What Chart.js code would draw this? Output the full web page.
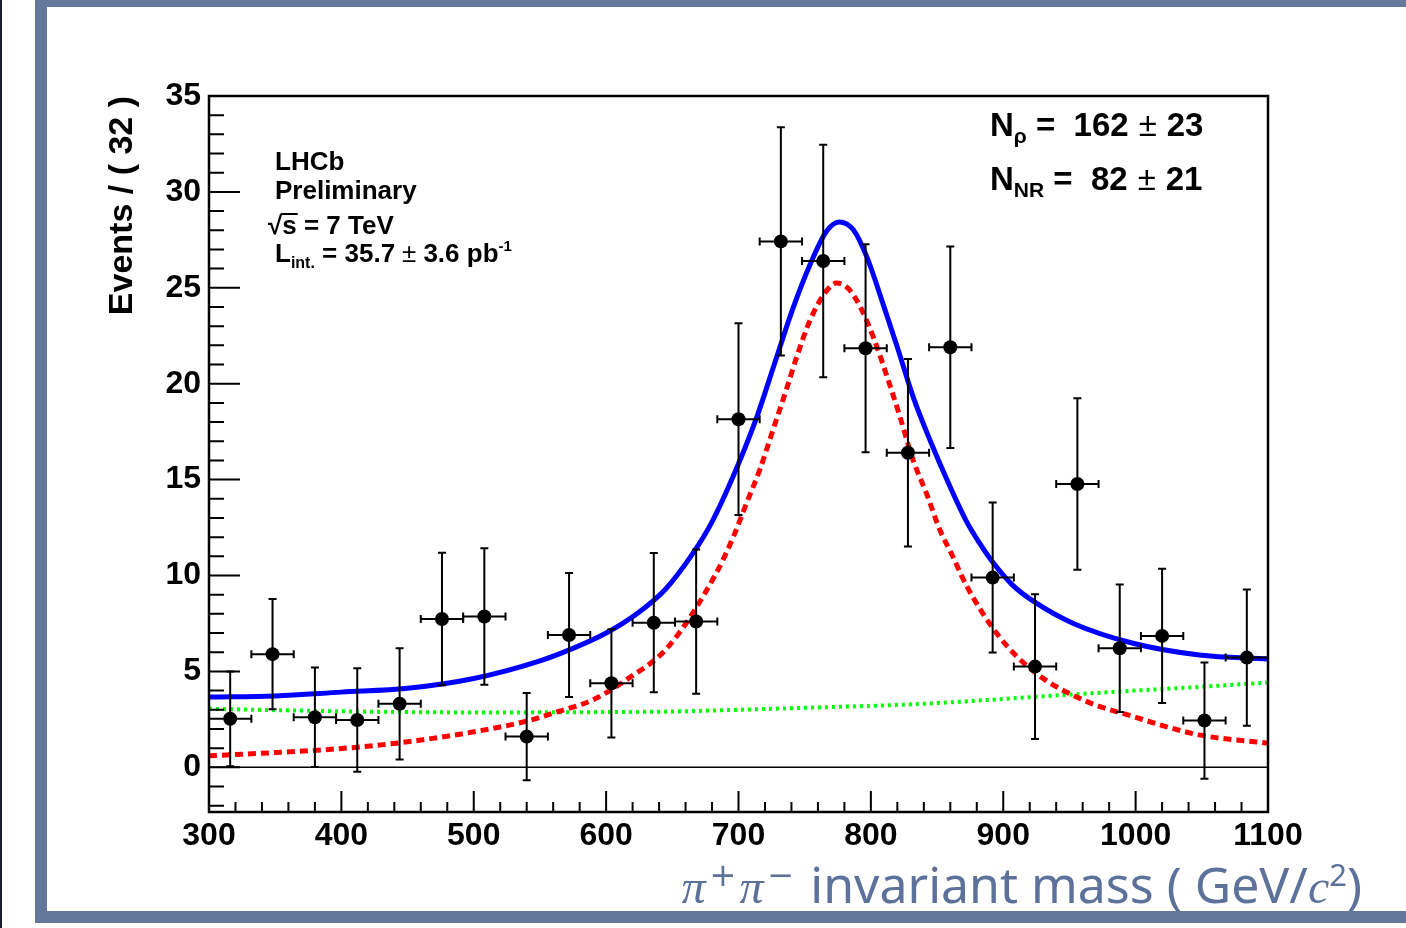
<!DOCTYPE html>
<html>
<head>
<meta charset="utf-8">
<title>pi+ pi- invariant mass</title>
<script src="https://cdn.jsdelivr.net/npm/chart.js@4.4.1/dist/chart.umd.min.js"></script>
<style>
  html, body { margin: 0; padding: 0; background: #fff; }
  #page { position: relative; width: 1406px; height: 928px; overflow: hidden; background: #fff; }
  .bar { position: absolute; background: #64789b; }
  #edge { position: absolute; left: 0; top: 0; width: 2px; height: 928px; background: #1b1e33; }
  #chartBox { position: absolute; left: 0; top: 0; width: 1406px; height: 928px; }
  #xtitle { position: absolute; right: 44px; top: 859px; font-family: "Noto Sans", sans-serif; font-size: 50px;
            line-height: 50px; color: #5d729a; white-space: nowrap; }
  #xtitle .m { font-family: "Liberation Serif", serif; font-style: italic; font-size: 48px; line-height: 0; }
  #xtitle .pm { font-family: "DejaVu Sans", sans-serif; font-size: 32px; line-height: 0; vertical-align: baseline;
                position: relative; top: -17px; margin: 0 3px 0 4px; }
  #xtitle sup { font-size: 0.62em; line-height: 0; vertical-align: baseline; position: relative; top: -0.55em; }
</style>
</head>
<body>
<div id="page">
  <div id="edge"></div>
  <div class="bar" style="left:35px; top:0; width:1371px; height:7px"></div>
  <div class="bar" style="left:35px; top:0; width:12px; height:923px"></div>
  <div class="bar" style="left:35px; top:911px; width:1371px; height:12px"></div>
  <div id="chartBox"><canvas id="massChart"></canvas></div>
  <div id="xtitle"><span class="m">π</span><span class="pm">+</span><span class="m">π</span><span class="pm">−</span> invariant mass ( GeV/<span class="m">c</span><sup>2</sup>)</div>
</div>
<script>
// binned data (bin width 32), symmetric errors
const binWidth = 32;
const massCenters = [316, 348, 380, 412, 444, 476, 508, 540, 572, 604, 636, 668, 700,
                     732, 764, 796, 828, 860, 892, 924, 956, 988, 1020, 1052, 1084];
const eventCounts = [2.53, 5.9, 2.61, 2.47, 3.31, 7.73, 7.86, 1.6, 6.9, 4.38, 7.54, 7.6, 18.15,
                     27.42, 26.4, 21.85, 16.4, 21.9, 9.89, 5.25, 14.77, 6.21, 6.85, 2.44, 5.72];
const eventErrors = [2.47, 2.87, 2.6, 2.7, 2.9, 3.45, 3.56, 2.28, 3.23, 2.82, 3.63, 3.76, 5.0,
                     5.95, 6.06, 5.42, 4.89, 5.25, 3.91, 3.77, 4.47, 3.32, 3.5, 3.03, 3.55];

// total fit (blue)
const totalMass = [300, 350, 400, 450, 500, 550, 575, 600, 625, 645, 665, 680, 698, 714, 727, 741,
                   754, 766, 776, 787, 797, 809, 820, 832, 845, 860, 872, 882, 892, 907, 923, 953,
                   998, 1048, 1100];
const totalFit = [3.66, 3.72, 3.92, 4.12, 4.63, 5.55, 6.2, 7.0, 8.1, 9.3, 11.1, 12.8, 15.5, 18.3, 21.0, 23.9,
                  26.2, 27.9, 28.43, 28.0, 26.6, 24.2, 21.9, 19.3, 17.0, 14.6, 12.85, 11.7, 10.7, 9.5, 8.65, 7.5,
                  6.47, 5.86, 5.65];

// rho component (red dashed)
const rhoMass = [300, 350, 400, 450, 500, 539, 564, 590, 615, 647, 683, 696, 706, 716, 726, 736, 744,
                 754, 766, 774, 783, 792, 802, 814, 822, 832, 842, 852, 862, 872, 897, 923, 960, 998,
                 1048, 1100];
const rhoFit = [0.6, 0.77, 0.98, 1.33, 1.85, 2.39, 2.91, 3.52, 4.55, 6.29, 10.1, 12.0, 13.76, 15.5, 17.58, 19.66, 21.4,
                23.3, 24.8, 25.25, 24.96, 24.0, 22.4, 20.0, 18.27, 16.0, 14.28, 12.4, 10.98, 9.5, 6.81, 5.0, 3.52, 2.65,
                1.69, 1.26];

// non-resonant component (green dotted)
const nrMass = [300, 400, 500, 600, 650, 700, 750, 822, 850, 948, 1000, 1050, 1100];
const nrFit = [3.05, 2.92, 2.86, 2.88, 2.91, 3.0, 3.1, 3.26, 3.35, 3.78, 4.0, 4.2, 4.42];

const xTickValues = [300, 400, 500, 600, 700, 800, 900, 1000, 1100];
const yTickValues = [0, 5, 10, 15, 20, 25, 30, 35];

const toXY = (xs, ys) => xs.map((x, i) => ({ x: x, y: ys[i] }));
const boldFont = '"Liberation Sans", Arial, sans-serif';

function richText(ctx, x, y, parts) {
  let cx = x;
  for (const p of parts) {
    ctx.font = (p.light ? '' : 'bold ') + p.size + 'px ' + boldFont;
    ctx.fillText(p.text, cx, y + (p.dy || 0));
    cx += ctx.measureText(p.text).width + (p.gap || 0);
  }
  return cx;
}

const rootFrame = {
  id: 'rootFrame',
  beforeDatasetsDraw(chart) {
    const { ctx, chartArea: a, scales: { y } } = chart;
    const y0 = y.getPixelForValue(0);
    ctx.save();
    ctx.strokeStyle = '#000';
    ctx.lineWidth = 1.5;
    ctx.beginPath();
    ctx.moveTo(a.left, y0);
    ctx.lineTo(a.right, y0);
    ctx.stroke();
    ctx.restore();
  },
  afterDatasetsDraw(chart) {
    const { ctx, chartArea: a, scales: { x, y } } = chart;
    ctx.save();
    ctx.strokeStyle = '#000';
    ctx.lineWidth = 2;
    // error bars
    massCenters.forEach((m, i) => {
      const px = x.getPixelForValue(m);
      const py = y.getPixelForValue(eventCounts[i]);
      const pHi = y.getPixelForValue(eventCounts[i] + eventErrors[i]);
      const pLo = y.getPixelForValue(eventCounts[i] - eventErrors[i]);
      const pL = x.getPixelForValue(m - binWidth / 2);
      const pR = x.getPixelForValue(m + binWidth / 2);
      ctx.beginPath();
      ctx.moveTo(px, pHi); ctx.lineTo(px, pLo);
      ctx.moveTo(px - 4, pHi); ctx.lineTo(px + 4, pHi);
      ctx.moveTo(px - 4, pLo); ctx.lineTo(px + 4, pLo);
      ctx.moveTo(pL, py); ctx.lineTo(pR, py);
      ctx.moveTo(pL, py - 4); ctx.lineTo(pL, py + 4);
      ctx.moveTo(pR, py - 4); ctx.lineTo(pR, py + 4);
      ctx.stroke();
    });
    // ROOT style inner ticks
    ctx.beginPath();
    for (let v = -2; v <= 35; v++) {
      const py = y.getPixelForValue(v);
      ctx.moveTo(a.left, py);
      ctx.lineTo(a.left + (v % 5 === 0 ? 31 : 15), py);
    }
    for (let v = 300; v <= 1100; v += 20) {
      const px = x.getPixelForValue(v);
      ctx.moveTo(px, a.bottom);
      ctx.lineTo(px, a.bottom - (v % 100 === 0 ? 21 : 10));
    }
    ctx.stroke();
    ctx.lineWidth = 2.5;
    ctx.strokeRect(a.left, a.top, a.right - a.left, a.bottom - a.top);
    ctx.restore();
  },
  afterDraw(chart) {
    const { ctx, chartArea: a } = chart;
    ctx.save();
    ctx.fillStyle = '#000';
    ctx.textBaseline = 'alphabetic';
    const lx = a.left + 66;
    richText(ctx, lx, a.top + 74, [{ text: 'LHCb', size: 26 }]);
    richText(ctx, lx, a.top + 103, [{ text: 'Preliminary', size: 26 }]);
    const sx = richText(ctx, lx - 7, a.top + 138, [{ text: '√', size: 26 }]);
    const afterS = richText(ctx, sx, a.top + 138, [{ text: 's', size: 26 }]);
    ctx.lineWidth = 2;
    ctx.beginPath();
    ctx.moveTo(sx - 1, a.top + 118);
    ctx.lineTo(afterS + 1, a.top + 118);
    ctx.stroke();
    richText(ctx, afterS, a.top + 138, [{ text: ' = 7 TeV', size: 26 }]);
    richText(ctx, lx, a.top + 166, [
      { text: 'L', size: 26 },
      { text: 'int.', size: 16, dy: 6 },
      { text: ' = 35.7', size: 26, gap: 7 },
      { text: '±', size: 26, light: true, gap: 7 },
      { text: '3.6 pb', size: 26 },
      { text: '-1', size: 15, dy: -11 }
    ]);
    const rx = a.left + 781;
    richText(ctx, rx, a.top + 40, [
      { text: 'N', size: 33 },
      { text: 'ρ', size: 21, dy: 7 },
      { text: ' =  162', size: 33, gap: 10 },
      { text: '±', size: 33, light: true, gap: 10 },
      { text: '23', size: 33 }
    ]);
    richText(ctx, rx, a.top + 94, [
      { text: 'N', size: 33 },
      { text: 'NR', size: 21, dy: 7 },
      { text: ' =  82', size: 33, gap: 10 },
      { text: '±', size: 33, light: true, gap: 10 },
      { text: '21', size: 33 }
    ]);
    ctx.restore();
  }
};

const tickFont = { family: boldFont, weight: 'bold', size: 32 };

new Chart(document.getElementById('massChart'), {
  data: {
    datasets: [
      {
        type: 'line', label: 'non-resonant', data: toXY(nrMass, nrFit),
        borderColor: '#00ff00', borderWidth: 4, borderDash: [3, 4], pointRadius: 0,
        cubicInterpolationMode: 'monotone', fill: false, order: 4
      },
      {
        type: 'line', label: 'rho', data: toXY(rhoMass, rhoFit),
        borderColor: '#ff0000', borderWidth: 5, borderDash: [8, 5], pointRadius: 0,
        cubicInterpolationMode: 'monotone', fill: false, order: 3
      },
      {
        type: 'line', label: 'total', data: toXY(totalMass, totalFit),
        borderColor: '#0000ff', borderWidth: 5, pointRadius: 0,
        cubicInterpolationMode: 'monotone', fill: false, order: 2
      },
      {
        type: 'scatter', label: 'data', data: toXY(massCenters, eventCounts),
        backgroundColor: '#000', borderWidth: 0, pointRadius: 7, order: 1
      }
    ]
  },
  options: {
    responsive: true,
    maintainAspectRatio: false,
    animation: false,
    layout: { padding: { left: 95, right: 138, top: 96, bottom: 0 } },
    plugins: { legend: { display: false }, tooltip: { enabled: false } },
    scales: {
      x: {
        type: 'linear', min: 300, max: 1100,
        afterBuildTicks: s => { s.ticks = xTickValues.map(v => ({ value: v })); },
        afterFit: s => { s.height = 116; },
        grid: { display: false }, border: { display: false },
        ticks: { font: tickFont, color: '#000', padding: -3, maxRotation: 0, autoSkip: false,
                 callback: v => String(v) }
      },
      y: {
        type: 'linear', min: -2.33, max: 35,
        afterBuildTicks: s => { s.ticks = yTickValues.map(v => ({ value: v })); },
        afterFit: s => { s.width = 114; },
        grid: { display: false }, border: { display: false },
        ticks: { font: tickFont, color: '#000', padding: 0, autoSkip: false, callback: v => String(v) },
        title: {
          display: true, text: 'Events / ( 32 )', align: 'end', color: '#000',
          font: { family: boldFont, weight: 'bold', size: 34 }, padding: { top: 7, bottom: 0 }
        }
      }
    }
  },
  plugins: [rootFrame]
});
</script>
</body>
</html>
